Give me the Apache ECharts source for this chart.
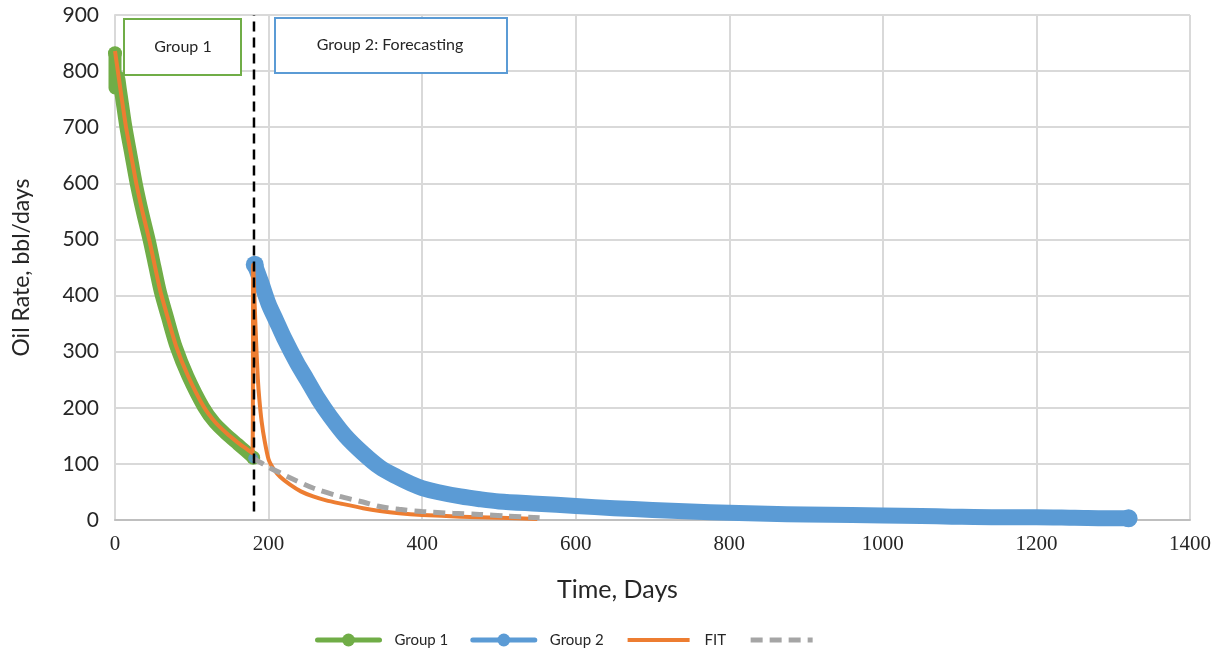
<!DOCTYPE html>
<html>
<head>
<meta charset="utf-8">
<script src="https://cdn.jsdelivr.net/npm/echarts@6/dist/echarts.min.js"></script>
<style>
html,body{margin:0;padding:0;background:#fff;}
#chart{width:1227px;height:653px;}
</style>
</head>
<body>
<div id="chart"></div>
<script>
// ---- data (days, bbl/day) ----
const group1 = [[0,832],[0,770],[4,790],[7,767],[14,702],[21,649],[28,597],[36,547],[45,496],[52,451],[59,407],[68,363],[80,307],[95,256],[115,202],[130,173],[145,153],[160,135],[170,123],[180,111]];
const group2 = [[182,455],[190,425],[200,385],[210,355],[220,325],[237,280],[250,250],[265,215],[280,185],[300,150],[323,119],[345,94],[367,77],[385,65],[400,57],[420,50],[450,42],[475,37],[500,33],[550,29],[600,25],[650,21],[700,18],[750,15],[800,13],[850,11],[900,10],[960,9],[1000,8],[1050,7],[1090,6],[1150,5],[1200,5],[1250,4],[1310,3],[1320,3]];
const fit = [[0,836],[7,768],[14,703],[21,650],[28,598],[36,548],[45,497],[52,452],[59,408],[68,364],[80,308],[95,257],[115,203],[130,175],[145,155],[160,138],[170,128],[179,119],[180,455],[182,380],[184,310],[186,252],[188,215],[191,175],[195,140],[200,108],[207,90],[215,77],[228,63],[242,51],[258,42],[275,35],[295,29],[323,21],[345,16],[370,12],[400,9],[450,6],[500,4],[550,2]];
const trend = [[180,110],[190,102],[200,94],[215,84],[230,74],[258,57],[290,43],[323,32],[345,24],[370,19],[400,15],[440,12],[475,10],[510,7],[553,4]];
const splitDay = [[181,15],[181,900]];
const blueDot = [[180,110]];
const boxLabels = ['Group 1', 'Group 2: Forecasting'];
const seriesNames = ['Group 1', 'Group 2', 'FIT', 'Trend'];

const chart = echarts.init(document.getElementById('chart'));
const FONT = 'Lato';
const endSymbol = (arr, size) => (v, p) => (p.dataIndex === 0 || p.dataIndex === arr.length - 1) ? size : 0;
const clear = 'rgba(0,0,0,0)';

chart.setOption({
  animation: false,
  backgroundColor: '#fff',
  grid: {left: 115, right: 37, top: 15, bottom: 133},
  xAxis: {
    type: 'value', min: 0, max: 1400, interval: 200,
    name: 'Time, Days', nameLocation: 'middle', nameGap: 57,
    nameTextStyle: {fontFamily: FONT, fontSize: 25, color: '#262626', padding: [0, 70, 0, 0]},
    axisLine: {show: true, lineStyle: {color: '#BFBFBF', width: 2}},
    axisTick: {show: false},
    axisLabel: {fontFamily: 'Liberation Sans Narrow', fontSize: 21, color: '#262626', margin: 14,
      formatter: v => String(v)},
    splitLine: {show: true, lineStyle: {color: '#D9D9D9', width: 2}}
  },
  yAxis: {
    type: 'value', min: 0, max: 900, interval: 100,
    name: 'Oil Rate, bbl/days', nameLocation: 'middle', nameGap: 82,
    nameTextStyle: {fontFamily: FONT, fontSize: 23, color: '#262626'},
    axisLine: {show: true, lineStyle: {color: '#D9D9D9', width: 2}},
    axisTick: {show: false},
    axisLabel: {fontFamily: FONT, fontSize: 21, color: '#262626', margin: 16},
    splitLine: {show: true, lineStyle: {color: '#D9D9D9', width: 2}}
  },
  legend: {
    left: 310, top: 627, itemWidth: 62, itemHeight: 16, itemGap: 22,
    textStyle: {fontFamily: FONT, fontSize: 15, color: '#262626', padding: [0, 0, 0, 10]},
    formatter: n => n === 'Trend' ? '' : n,
    data: [
      {name: seriesNames[0], lineStyle: {width: 5}},
      {name: seriesNames[1], lineStyle: {width: 5}},
      {name: seriesNames[2], lineStyle: {width: 4}, itemStyle: {color: clear, borderWidth: 0}},
      {name: seriesNames[3], lineStyle: {width: 5}, itemStyle: {color: clear, borderWidth: 0}}
    ]
  },
  series: [
    {
      name: seriesNames[0], type: 'line', data: group1, z: 2, smooth: 0.3,
      symbol: 'circle', symbolSize: endSymbol(group1, 14), showSymbol: true,
      itemStyle: {color: '#70AD47'},
      lineStyle: {color: '#70AD47', width: 13, cap: 'round', join: 'round'}
    },
    {
      name: seriesNames[1], type: 'line', data: group2, z: 3, smooth: 0.3,
      symbol: 'circle', symbolSize: endSymbol(group2, 18), showSymbol: true,
      itemStyle: {color: '#5B9BD5'},
      lineStyle: {color: '#5B9BD5', width: 16, cap: 'round', join: 'round'}
    },
    {
      name: 'dot', type: 'scatter', data: blueDot, z: 3, symbolSize: 10,
      itemStyle: {color: '#5B9BD5'}
    },
    {
      name: seriesNames[2], type: 'line', data: fit, z: 4, symbol: 'none', smooth: 0.2,
      itemStyle: {color: '#ED7D31'},
      lineStyle: {color: '#ED7D31', width: 4, join: 'round'}
    },
    {
      name: seriesNames[3], type: 'line', data: trend, z: 5, symbol: 'none', smooth: 0.3,
      itemStyle: {color: '#A5A5A5'},
      lineStyle: {color: '#A5A5A5', width: 5, type: [12, 7]}
    },
    {
      name: 'split', type: 'line', data: splitDay, z: 6, symbol: 'none',
      lineStyle: {color: '#000', width: 2.5, type: [10, 6]}
    }
  ],
  graphic: [
    {type: 'rect', z: 10, shape: {x: 124, y: 19, width: 117, height: 56},
     style: {fill: '#fff', stroke: '#70AD47', lineWidth: 2}},
    {type: 'text', z: 11, x: 183, y: 47,
     style: {text: boxLabels[0], fontFamily: FONT, fontSize: 16, fill: '#262626', align: 'center', verticalAlign: 'middle'}},
    {type: 'rect', z: 10, shape: {x: 275, y: 18, width: 232, height: 55},
     style: {fill: '#fff', stroke: '#5B9BD5', lineWidth: 2}},
    {type: 'text', z: 11, x: 390, y: 45,
     style: {text: boxLabels[1], fontFamily: FONT, fontSize: 16, fill: '#262626', align: 'center', verticalAlign: 'middle'}}
  ]
});
</script>
</body>
</html>
